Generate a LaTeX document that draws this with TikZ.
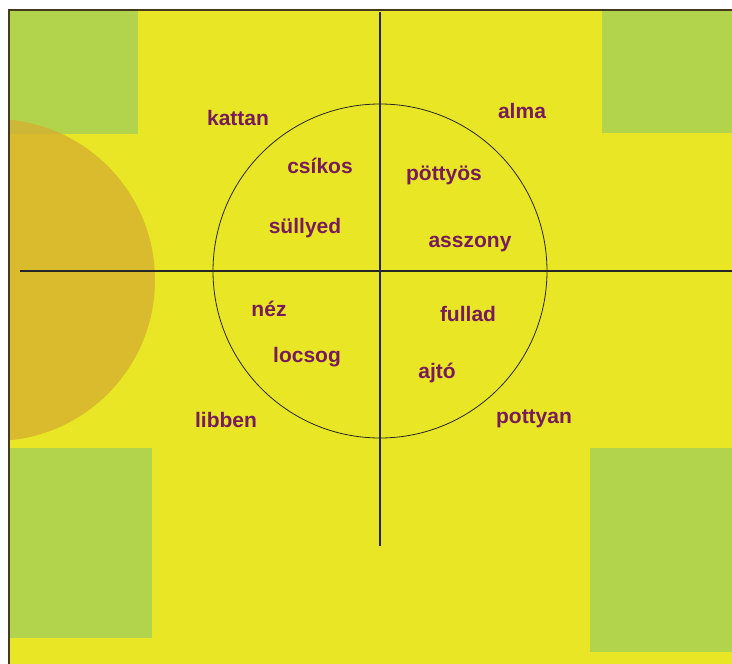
\documentclass[tikz,border=0pt]{standalone}
\usepackage{fontspec}
\setmainfont{Liberation Sans}
\definecolor{bgyellow}{RGB}{233,230,37}
\definecolor{boxgreen}{RGB}{178,212,76}
\definecolor{blobgold}{RGB}{214,176,48}
\definecolor{wordpurple}{RGB}{118,28,90}
\definecolor{frameline}{RGB}{70,58,30}
\tikzset{
  word/.style={anchor=base, text=wordpurple, font=\bfseries\fontsize{21}{24}\selectfont, inner sep=0pt},
  axis/.style={draw=black!85, line width=1.6pt},
  greenbox/.style={fill=boxgreen, draw=none}
}
\begin{document}
\begin{tikzpicture}[x=1pt,y=-1pt]
\useasboundingbox (0,0) rectangle (732,664);
\fill[white] (0,0) rectangle (732,664);
\fill[bgyellow] (9,10) rectangle (732,664);
% green boxes
\fill[greenbox] (9,10) rectangle (138,134);
\fill[greenbox] (602,10) rectangle (732,133);
\fill[greenbox] (9,448) rectangle (152,638);
\fill[greenbox] (590,448) rectangle (732,652);
% gold half disc
\begin{scope}
\clip (9,10) rectangle (732,664);
\fill[blobgold, opacity=0.78] (-6,280) circle[radius=161];
\end{scope}
% frame
\draw[frameline, line width=2pt] (8.5,664) -- (8.5,9.5) -- (732,9.5);
% axes and circle
\coordinate (c) at (380,271);
\coordinate (hl) at (20,271);
\coordinate (hr) at (732,271);
\coordinate (vt) at (380,12);
\coordinate (vb) at (380,546);
\draw[axis] (hl) -- (hr);
\draw[axis] (vt) -- (vb);
\draw[black!85, line width=0.8pt] (c) circle[radius=167];
% words
\node[word] (kattan) at (238,125) {kattan};
\node[word] (alma) at (522,118) {alma};
\node[word] (csikos) at (320,173) {csíkos};
\node[word] (pottyos) at (444,180) {pöttyös};
\node[word] (sullyed) at (305,233) {süllyed};
\node[word] (asszony) at (470,247) {asszony};
\node[word] (nez) at (269,316) {néz};
\node[word] (fullad) at (468,321) {fullad};
\node[word] (locsog) at (307,362) {locsog};
\node[word] (ajto) at (437,378) {ajtó};
\node[word] (libben) at (226,427) {libben};
\node[word] (pottyan) at (534,423) {pottyan};
\end{tikzpicture}
\end{document}
